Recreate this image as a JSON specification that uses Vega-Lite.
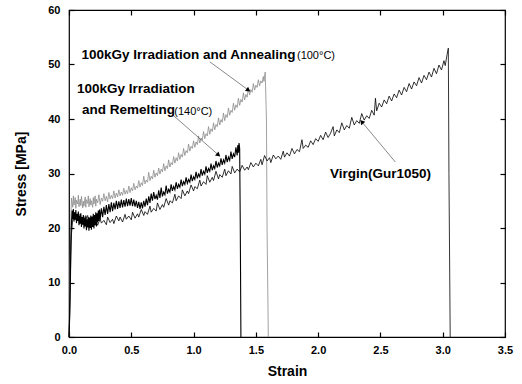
{
  "$schema": "https://vega.github.io/schema/vega-lite/v6.json",
  "width": 436,
  "height": 327,
  "autosize": "none",
  "padding": {"left": 69, "top": 10, "right": 17, "bottom": 47},
  "background": "white",
  "config": {
    "view": {"stroke": "#000", "strokeWidth": 1.2},
    "font": "Liberation Sans",
    "axis": {"grid": false, "labelColor": "#000", "titleColor": "#000", "labelFont": "Liberation Sans", "titleFont": "Liberation Sans", "labelFontWeight": "bold", "titleFontWeight": "bold", "labelFontSize": 11, "titleFontSize": 14, "labelFlush": false}
  },
  "datasets": {
    "annealing": [
      {"x":0,"y":0},{"x":0.005,"y":5},{"x":0.01,"y":14},{"x":0.015,"y":22},{"x":0.02,"y":25.5},
      {"x":0.03,"y":23.8},{"x":0.035,"y":25.9},{"x":0.04,"y":24.2},{"x":0.05,"y":25.6},{"x":0.055,"y":23.6},{"x":0.06,"y":25.1},{"x":0.07,"y":24.4},{"x":0.075,"y":26.0},{"x":0.08,"y":23.9},{"x":0.09,"y":25.3},
      {"x":0.095,"y":24.1},{"x":0.10,"y":25.8},{"x":0.11,"y":23.7},{"x":0.115,"y":24.9},{"x":0.12,"y":24.0},{"x":0.13,"y":25.7},{"x":0.135,"y":23.8},{"x":0.14,"y":25.2},{"x":0.15,"y":24.5},{"x":0.155,"y":25.9},
      {"x":0.16,"y":23.9},{"x":0.17,"y":25.4},{"x":0.175,"y":24.2},{"x":0.18,"y":25.0},{"x":0.19,"y":23.8},{"x":0.195,"y":25.6},{"x":0.20,"y":24.4},{"x":0.21,"y":25.9},{"x":0.215,"y":24.0},{"x":0.22,"y":25.3},
      {"x":0.23,"y":24.6},{"x":0.24,"y":26.1},{"x":0.25,"y":24.3},{"x":0.26,"y":25.5},{"x":0.27,"y":24.9},{"x":0.28,"y":26.3},{"x":0.29,"y":25.0},{"x":0.30,"y":25.8},{"x":0.31,"y":24.8},{"x":0.32,"y":26.5},
      {"x":0.33,"y":25.3},{"x":0.34,"y":26.0},{"x":0.35,"y":25.4},{"x":0.36,"y":26.8},{"x":0.37,"y":25.5},{"x":0.38,"y":26.4},{"x":0.39,"y":25.7},{"x":0.40,"y":27.0},{"x":0.41,"y":25.9},{"x":0.42,"y":26.6},
      {"x":0.43,"y":26.0},{"x":0.44,"y":27.3},{"x":0.45,"y":26.2},{"x":0.46,"y":26.9},{"x":0.47,"y":26.3},{"x":0.48,"y":27.7},{"x":0.49,"y":26.5},{"x":0.50,"y":27.4},{"x":0.51,"y":26.8},{"x":0.52,"y":28.2},
      {"x":0.53,"y":27.0},{"x":0.54,"y":27.7},{"x":0.55,"y":27.3},{"x":0.56,"y":28.7},{"x":0.57,"y":27.5},{"x":0.58,"y":28.3},{"x":0.59,"y":27.8},{"x":0.60,"y":29.5},{"x":0.61,"y":28.1},{"x":0.62,"y":28.8},
      {"x":0.63,"y":28.4},{"x":0.64,"y":30.2},{"x":0.65,"y":28.7},{"x":0.66,"y":29.5},{"x":0.67,"y":29.0},{"x":0.68,"y":30.6},{"x":0.69,"y":29.3},{"x":0.70,"y":30.1},{"x":0.71,"y":29.6},{"x":0.72,"y":31.0},
      {"x":0.73,"y":29.9},{"x":0.74,"y":30.8},{"x":0.75,"y":30.3},{"x":0.76,"y":31.8},{"x":0.77,"y":30.5},{"x":0.78,"y":31.4},{"x":0.79,"y":30.9},{"x":0.80,"y":32.5},{"x":0.81,"y":31.2},{"x":0.82,"y":32.0},
      {"x":0.83,"y":31.6},{"x":0.84,"y":33.1},{"x":0.85,"y":31.9},{"x":0.86,"y":32.9},{"x":0.87,"y":32.3},{"x":0.88,"y":33.8},{"x":0.89,"y":32.6},{"x":0.90,"y":33.5},{"x":0.91,"y":33.0},{"x":0.92,"y":34.6},
      {"x":0.93,"y":33.3},{"x":0.94,"y":34.2},{"x":0.95,"y":33.8},{"x":0.96,"y":35.4},{"x":0.97,"y":34.1},{"x":0.98,"y":35.0},{"x":0.99,"y":34.6},{"x":1.00,"y":36.0},{"x":1.01,"y":34.8},{"x":1.02,"y":35.8},
      {"x":1.03,"y":35.3},{"x":1.04,"y":36.9},{"x":1.05,"y":35.6},{"x":1.06,"y":36.5},{"x":1.07,"y":36.1},{"x":1.08,"y":37.7},{"x":1.09,"y":36.4},{"x":1.10,"y":37.3},{"x":1.11,"y":36.9},{"x":1.12,"y":38.6},
      {"x":1.13,"y":37.2},{"x":1.14,"y":38.2},{"x":1.15,"y":37.7},{"x":1.16,"y":39.3},{"x":1.17,"y":38.0},{"x":1.18,"y":39.0},{"x":1.19,"y":38.6},{"x":1.20,"y":40.2},{"x":1.21,"y":38.9},{"x":1.22,"y":39.9},
      {"x":1.23,"y":39.4},{"x":1.24,"y":41.1},{"x":1.25,"y":39.7},{"x":1.26,"y":40.8},{"x":1.27,"y":40.3},{"x":1.28,"y":42.0},{"x":1.29,"y":40.7},{"x":1.30,"y":41.6},{"x":1.31,"y":41.2},{"x":1.32,"y":42.9},
      {"x":1.33,"y":41.6},{"x":1.34,"y":42.6},{"x":1.35,"y":42.1},{"x":1.36,"y":43.8},{"x":1.37,"y":42.5},{"x":1.38,"y":43.6},{"x":1.39,"y":43.1},{"x":1.40,"y":44.8},{"x":1.41,"y":43.5},{"x":1.42,"y":44.5},
      {"x":1.43,"y":44.0},{"x":1.44,"y":45.6},{"x":1.45,"y":44.4},{"x":1.46,"y":45.4},{"x":1.47,"y":44.9},{"x":1.48,"y":46.5},{"x":1.49,"y":45.3},{"x":1.50,"y":46.2},{"x":1.51,"y":45.8},{"x":1.52,"y":47.2},
      {"x":1.53,"y":46.1},{"x":1.54,"y":47.0},{"x":1.55,"y":46.6},{"x":1.56,"y":47.8},{"x":1.565,"y":46.9},{"x":1.575,"y":48.6},{"x":1.585,"y":40},{"x":1.59,"y":20},{"x":1.60,"y":0}
    ],
    "virgin": [
      {"x":0,"y":0},{"x":0.005,"y":3},{"x":0.01,"y":8},{"x":0.015,"y":15},{"x":0.02,"y":19},{"x":0.03,"y":21.5},{"x":0.04,"y":22.8},{"x":0.05,"y":21.6},{"x":0.06,"y":22.4},{"x":0.075,"y":21.3},
      {"x":0.09,"y":22.6},{"x":0.10,"y":21.0},{"x":0.12,"y":22.1},{"x":0.13,"y":21.4},{"x":0.15,"y":22.3},{"x":0.16,"y":20.9},{"x":0.18,"y":21.9},{"x":0.20,"y":20.7},{"x":0.21,"y":21.8},{"x":0.23,"y":20.5},
      {"x":0.25,"y":21.7},{"x":0.26,"y":20.9},{"x":0.28,"y":21.4},{"x":0.30,"y":20.6},{"x":0.31,"y":22.0},{"x":0.33,"y":21.0},{"x":0.35,"y":21.6},{"x":0.36,"y":20.8},{"x":0.38,"y":22.2},{"x":0.40,"y":21.3},
      {"x":0.41,"y":22.0},{"x":0.43,"y":21.1},{"x":0.45,"y":22.5},{"x":0.46,"y":21.6},{"x":0.48,"y":22.2},{"x":0.50,"y":21.5},{"x":0.51,"y":22.9},{"x":0.53,"y":21.8},{"x":0.55,"y":22.6},{"x":0.56,"y":22.0},
      {"x":0.58,"y":23.4},{"x":0.60,"y":22.3},{"x":0.61,"y":23.0},{"x":0.63,"y":22.5},{"x":0.65,"y":24.0},{"x":0.66,"y":22.9},{"x":0.68,"y":23.6},{"x":0.70,"y":23.1},{"x":0.71,"y":24.6},{"x":0.73,"y":23.4},
      {"x":0.75,"y":24.3},{"x":0.76,"y":23.8},{"x":0.78,"y":25.4},{"x":0.80,"y":24.2},{"x":0.81,"y":25.0},{"x":0.83,"y":24.6},{"x":0.85,"y":26.2},{"x":0.86,"y":25.0},{"x":0.88,"y":25.9},{"x":0.90,"y":25.4},
      {"x":0.91,"y":27.0},{"x":0.93,"y":25.9},{"x":0.95,"y":26.8},{"x":0.96,"y":26.3},{"x":0.98,"y":27.9},{"x":1.00,"y":26.8},{"x":1.01,"y":27.6},{"x":1.03,"y":27.2},{"x":1.05,"y":28.8},{"x":1.06,"y":27.7},
      {"x":1.08,"y":28.5},{"x":1.10,"y":28.0},{"x":1.11,"y":29.6},{"x":1.13,"y":28.4},{"x":1.15,"y":29.3},{"x":1.16,"y":28.7},{"x":1.18,"y":30.4},{"x":1.20,"y":29.0},{"x":1.21,"y":29.8},{"x":1.23,"y":29.3},
      {"x":1.25,"y":30.8},{"x":1.26,"y":29.6},{"x":1.28,"y":30.5},{"x":1.30,"y":29.9},{"x":1.31,"y":31.3},{"x":1.33,"y":30.1},{"x":1.35,"y":30.8},{"x":1.37,"y":30.3},{"x":1.39,"y":31.5},{"x":1.41,"y":30.6},
      {"x":1.43,"y":31.2},{"x":1.44,"y":30.7},{"x":1.46,"y":32.0},{"x":1.48,"y":31.2},{"x":1.50,"y":31.9},{"x":1.52,"y":31.4},{"x":1.54,"y":32.6},{"x":1.55,"y":31.6},{"x":1.57,"y":33.3},{"x":1.59,"y":32.3},
      {"x":1.61,"y":32.9},{"x":1.62,"y":32.0},{"x":1.64,"y":33.4},{"x":1.66,"y":32.7},{"x":1.68,"y":33.2},{"x":1.70,"y":32.6},{"x":1.72,"y":34.1},{"x":1.73,"y":33.0},{"x":1.75,"y":33.8},{"x":1.77,"y":33.2},
      {"x":1.79,"y":34.6},{"x":1.81,"y":33.6},{"x":1.83,"y":34.4},{"x":1.85,"y":34.0},{"x":1.87,"y":36.2},{"x":1.88,"y":34.6},{"x":1.90,"y":35.2},{"x":1.92,"y":34.8},{"x":1.94,"y":36.0},{"x":1.96,"y":35.3},
      {"x":1.98,"y":36.4},{"x":2.00,"y":35.9},{"x":2.02,"y":37.0},{"x":2.04,"y":36.2},{"x":2.06,"y":37.6},{"x":2.08,"y":36.6},{"x":2.10,"y":37.4},{"x":2.12,"y":38.6},{"x":2.13,"y":36.9},{"x":2.15,"y":38.0},
      {"x":2.17,"y":37.5},{"x":2.19,"y":39.3},{"x":2.21,"y":38.0},{"x":2.23,"y":38.8},{"x":2.25,"y":38.3},{"x":2.27,"y":40.3},{"x":2.29,"y":38.9},{"x":2.31,"y":39.7},{"x":2.33,"y":39.2},{"x":2.35,"y":41.0},
      {"x":2.37,"y":39.8},{"x":2.39,"y":40.6},{"x":2.41,"y":40.1},{"x":2.43,"y":41.6},{"x":2.45,"y":40.7},{"x":2.46,"y":43.8},{"x":2.47,"y":41.5},{"x":2.49,"y":42.9},{"x":2.51,"y":42.2},{"x":2.53,"y":43.5},
      {"x":2.55,"y":42.8},{"x":2.57,"y":44.2},{"x":2.59,"y":43.3},{"x":2.61,"y":44.6},{"x":2.63,"y":43.9},{"x":2.65,"y":45.3},{"x":2.67,"y":44.4},{"x":2.69,"y":45.8},{"x":2.71,"y":45.0},{"x":2.73,"y":46.5},
      {"x":2.75,"y":45.5},{"x":2.77,"y":46.8},{"x":2.79,"y":46.1},{"x":2.81,"y":47.6},{"x":2.83,"y":46.6},{"x":2.85,"y":48.0},{"x":2.87,"y":47.2},{"x":2.89,"y":48.6},{"x":2.91,"y":47.7},{"x":2.93,"y":49.3},
      {"x":2.95,"y":48.3},{"x":2.97,"y":49.9},{"x":2.99,"y":49.0},{"x":3.01,"y":50.7},{"x":3.02,"y":49.8},{"x":3.035,"y":51.8},{"x":3.045,"y":53.0},{"x":3.05,"y":30},{"x":3.06,"y":0}
    ],
    "remelting": [
      {"x":0,"y":0},{"x":0.005,"y":4},{"x":0.01,"y":10},{"x":0.015,"y":17},{"x":0.02,"y":21},{"x":0.025,"y":23.2},{"x":0.03,"y":21.6},{"x":0.035,"y":23.5},{"x":0.04,"y":21.2},{"x":0.045,"y":22.9},
      {"x":0.05,"y":21.5},{"x":0.055,"y":23.3},{"x":0.06,"y":20.9},{"x":0.065,"y":22.6},{"x":0.07,"y":21.3},{"x":0.075,"y":23.0},{"x":0.08,"y":20.5},{"x":0.085,"y":22.2},{"x":0.09,"y":20.8},{"x":0.095,"y":22.7},
      {"x":0.10,"y":20.2},{"x":0.105,"y":22.0},{"x":0.11,"y":20.6},{"x":0.115,"y":22.4},{"x":0.12,"y":19.9},{"x":0.125,"y":21.8},{"x":0.13,"y":20.3},{"x":0.135,"y":22.3},{"x":0.14,"y":19.6},{"x":0.145,"y":21.6},
      {"x":0.15,"y":20.1},{"x":0.155,"y":22.0},{"x":0.16,"y":19.5},{"x":0.165,"y":21.9},{"x":0.17,"y":20.0},{"x":0.175,"y":22.3},{"x":0.18,"y":19.7},{"x":0.185,"y":22.1},{"x":0.19,"y":20.2},{"x":0.195,"y":22.6},
      {"x":0.20,"y":19.9},{"x":0.205,"y":22.4},{"x":0.21,"y":20.5},{"x":0.215,"y":22.9},{"x":0.22,"y":20.3},{"x":0.225,"y":22.7},{"x":0.23,"y":21.0},{"x":0.235,"y":23.2},{"x":0.24,"y":21.3},{"x":0.245,"y":23.4},
      {"x":0.25,"y":21.6},{"x":0.26,"y":23.6},{"x":0.27,"y":22.0},{"x":0.28,"y":23.9},{"x":0.29,"y":22.4},{"x":0.30,"y":24.2},{"x":0.31,"y":22.6},{"x":0.32,"y":24.4},{"x":0.33,"y":22.9},{"x":0.34,"y":24.7},
      {"x":0.35,"y":23.1},{"x":0.36,"y":24.6},{"x":0.37,"y":23.4},{"x":0.38,"y":25.0},{"x":0.39,"y":23.5},{"x":0.40,"y":24.9},{"x":0.41,"y":23.7},{"x":0.42,"y":25.2},{"x":0.43,"y":23.8},{"x":0.44,"y":25.1},
      {"x":0.45,"y":23.9},{"x":0.46,"y":25.4},{"x":0.47,"y":24.0},{"x":0.48,"y":25.3},{"x":0.49,"y":24.1},{"x":0.50,"y":25.5},{"x":0.51,"y":24.0},{"x":0.52,"y":25.2},{"x":0.53,"y":23.9},{"x":0.54,"y":25.0},
      {"x":0.55,"y":23.7},{"x":0.56,"y":24.8},{"x":0.57,"y":23.5},{"x":0.58,"y":24.7},{"x":0.59,"y":23.6},{"x":0.60,"y":25.0},{"x":0.61,"y":23.9},{"x":0.62,"y":25.4},{"x":0.63,"y":24.2},{"x":0.64,"y":25.8},
      {"x":0.65,"y":24.6},{"x":0.66,"y":26.3},{"x":0.67,"y":25.0},{"x":0.68,"y":26.6},{"x":0.69,"y":25.3},{"x":0.70,"y":26.0},{"x":0.71,"y":25.2},{"x":0.72,"y":26.9},{"x":0.73,"y":25.5},{"x":0.74,"y":27.4},
      {"x":0.75,"y":25.8},{"x":0.76,"y":26.6},{"x":0.77,"y":26.1},{"x":0.78,"y":27.8},{"x":0.79,"y":26.3},{"x":0.80,"y":27.1},{"x":0.81,"y":26.6},{"x":0.82,"y":28.0},{"x":0.83,"y":26.8},{"x":0.84,"y":27.6},
      {"x":0.85,"y":27.0},{"x":0.86,"y":28.4},{"x":0.87,"y":27.2},{"x":0.88,"y":28.0},{"x":0.89,"y":27.5},{"x":0.90,"y":28.9},{"x":0.91,"y":27.7},{"x":0.92,"y":28.5},{"x":0.93,"y":28.0},{"x":0.94,"y":29.3},
      {"x":0.95,"y":28.2},{"x":0.96,"y":28.9},{"x":0.97,"y":28.4},{"x":0.98,"y":29.8},{"x":0.99,"y":28.6},{"x":1.00,"y":29.4},{"x":1.01,"y":28.9},{"x":1.02,"y":30.3},{"x":1.03,"y":29.1},{"x":1.04,"y":29.9},
      {"x":1.05,"y":29.4},{"x":1.06,"y":30.8},{"x":1.07,"y":29.6},{"x":1.08,"y":30.4},{"x":1.09,"y":29.9},{"x":1.10,"y":31.3},{"x":1.11,"y":30.1},{"x":1.12,"y":30.9},{"x":1.13,"y":30.4},{"x":1.14,"y":31.8},
      {"x":1.15,"y":30.6},{"x":1.16,"y":31.4},{"x":1.17,"y":30.9},{"x":1.18,"y":32.3},{"x":1.19,"y":31.1},{"x":1.20,"y":31.9},{"x":1.21,"y":31.4},{"x":1.22,"y":32.8},{"x":1.23,"y":31.6},{"x":1.24,"y":32.5},
      {"x":1.25,"y":31.9},{"x":1.26,"y":33.4},{"x":1.27,"y":32.1},{"x":1.28,"y":33.0},{"x":1.29,"y":32.4},{"x":1.30,"y":34.0},{"x":1.31,"y":32.7},{"x":1.32,"y":33.6},{"x":1.33,"y":33.0},{"x":1.34,"y":34.8},
      {"x":1.35,"y":33.3},{"x":1.355,"y":35.2},{"x":1.36,"y":33.8},{"x":1.365,"y":35.6},{"x":1.37,"y":34.6},{"x":1.375,"y":20},{"x":1.38,"y":0}
    ],
    "labels": [
      {"w":"b","t":"100kGy Irradiation and Annealing","x":0.1,"y":51.7},
      {"w":"n","t":"(100°C)","x":1.83,"y":51.6},
      {"w":"b","t":"100kGy Irradiation","x":0.064,"y":45.5},
      {"w":"b","t":"and Remelting","x":0.104,"y":41.6},
      {"w":"n","t":"(140°C)","x":0.845,"y":41.3},
      {"w":"b","t":"Virgin(Gur1050)","x":2.095,"y":30.0}
    ],
    "arrows": [
      {"a":"Annealing","x1":1.13,"y1":50.5,"x2":1.44,"y2":45.3},
      {"a":"Remelting","x1":0.835,"y1":40.7,"x2":1.2,"y2":33.4},
      {"a":"Virgin","x1":2.62,"y1":32.1,"x2":2.35,"y2":39.5}
    ]
  },
  "resolve": {"axis": {"x": "independent", "y": "independent"}},
  "layer": [
    {
      "data": {"name": "annealing"},
      "mark": {"type": "line", "color": "#8a8a8a", "strokeWidth": 0.8},
      "encoding": {
        "x": {"field": "x", "type": "quantitative", "scale": {"domain": [0, 3.5], "nice": false, "zero": false},
              "axis": {"orient": "bottom", "values": [0, 0.5, 1, 1.5, 2, 2.5, 3, 3.5], "format": ".1f", "domain": false, "offset": -5, "tickSize": 5, "tickColor": "#000", "tickWidth": 1.2, "labelPadding": 7, "title": "Strain", "titlePadding": 9}},
        "y": {"field": "y", "type": "quantitative", "scale": {"domain": [0, 60], "nice": false},
              "axis": {"orient": "left", "values": [0, 10, 20, 30, 40, 50, 60], "format": "d", "domain": false, "offset": -5, "tickSize": 5, "tickColor": "#000", "tickWidth": 1.2, "labelPadding": 9, "title": "Stress [MPa]", "titlePadding": 19}}
      }
    },
    {
      "data": {"name": "virgin"},
      "mark": {"type": "line", "color": "#000", "strokeWidth": 0.8},
      "encoding": {
        "x": {"field": "x", "type": "quantitative", "scale": {"domain": [0, 3.5], "nice": false, "zero": false},
              "axis": {"orient": "top", "values": [0, 0.5, 1, 1.5, 2, 2.5, 3, 3.5], "labels": false, "domain": false, "offset": -5, "tickSize": 5, "tickColor": "#000", "tickWidth": 1.2, "title": null}},
        "y": {"field": "y", "type": "quantitative", "scale": {"domain": [0, 60], "nice": false},
              "axis": {"orient": "right", "values": [0, 10, 20, 30, 40, 50, 60], "labels": false, "domain": false, "offset": -5, "tickSize": 5, "tickColor": "#000", "tickWidth": 1.2, "title": null}}
      }
    },
    {
      "data": {"name": "remelting"},
      "mark": {"type": "line", "color": "#000", "strokeWidth": 1.1},
      "encoding": {
        "x": {"field": "x", "type": "quantitative", "scale": {"domain": [0, 3.5], "nice": false, "zero": false}, "axis": null},
        "y": {"field": "y", "type": "quantitative", "scale": {"domain": [0, 60], "nice": false}, "axis": null}
      }
    },
    {
      "data": {"name": "arrows"},
      "mark": {"type": "rule", "color": "#555", "strokeWidth": 0.7},
      "encoding": {
        "x": {"field": "x1", "type": "quantitative", "scale": {"domain": [0, 3.5], "nice": false, "zero": false}, "axis": null},
        "y": {"field": "y1", "type": "quantitative", "scale": {"domain": [0, 60], "nice": false}, "axis": null},
        "x2": {"field": "x2"},
        "y2": {"field": "y2"}
      }
    },
    {
      "data": {"name": "arrows"},
      "transform": [{"filter": "datum.a === 'Annealing'"}],
      "mark": {"type": "point", "shape": "triangle-up", "filled": true, "color": "#000", "opacity": 1, "size": 28, "angle": 126},
      "encoding": {
        "x": {"field": "x2", "type": "quantitative", "scale": {"domain": [0, 3.5], "nice": false, "zero": false}, "axis": null},
        "y": {"field": "y2", "type": "quantitative", "scale": {"domain": [0, 60], "nice": false}, "axis": null}
      }
    },
    {
      "data": {"name": "arrows"},
      "transform": [{"filter": "datum.a === 'Remelting'"}],
      "mark": {"type": "point", "shape": "triangle-up", "filled": true, "color": "#000", "opacity": 1, "size": 28, "angle": 132},
      "encoding": {
        "x": {"field": "x2", "type": "quantitative", "scale": {"domain": [0, 3.5], "nice": false, "zero": false}, "axis": null},
        "y": {"field": "y2", "type": "quantitative", "scale": {"domain": [0, 60], "nice": false}, "axis": null}
      }
    },
    {
      "data": {"name": "arrows"},
      "transform": [{"filter": "datum.a === 'Virgin'"}],
      "mark": {"type": "point", "shape": "triangle-up", "filled": true, "color": "#000", "opacity": 1, "size": 28, "angle": 320},
      "encoding": {
        "x": {"field": "x2", "type": "quantitative", "scale": {"domain": [0, 3.5], "nice": false, "zero": false}, "axis": null},
        "y": {"field": "y2", "type": "quantitative", "scale": {"domain": [0, 60], "nice": false}, "axis": null}
      }
    },
    {
      "data": {"name": "labels"},
      "transform": [{"filter": "datum.w === 'b'"}],
      "mark": {"type": "text", "align": "left", "baseline": "middle", "font": "Liberation Sans", "fontWeight": "bold", "fontSize": 13.5, "color": "#000"},
      "encoding": {
        "x": {"field": "x", "type": "quantitative", "scale": {"domain": [0, 3.5], "nice": false, "zero": false}, "axis": null},
        "y": {"field": "y", "type": "quantitative", "scale": {"domain": [0, 60], "nice": false}, "axis": null},
        "text": {"field": "t"}
      }
    },
    {
      "data": {"name": "labels"},
      "transform": [{"filter": "datum.w === 'n'"}],
      "mark": {"type": "text", "align": "left", "baseline": "middle", "font": "Liberation Sans", "fontSize": 11, "color": "#000"},
      "encoding": {
        "x": {"field": "x", "type": "quantitative", "scale": {"domain": [0, 3.5], "nice": false, "zero": false}, "axis": null},
        "y": {"field": "y", "type": "quantitative", "scale": {"domain": [0, 60], "nice": false}, "axis": null},
        "text": {"field": "t"}
      }
    }
  ]
}
